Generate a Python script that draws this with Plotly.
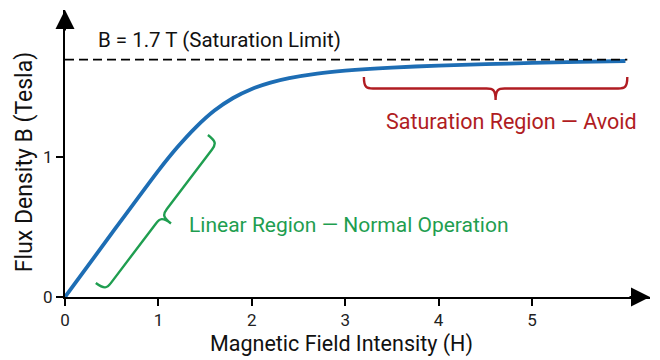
import math
import plotly.graph_objects as go

# ---- data ----
H = [0.0, 0.5, 1.0, 1.2, 1.4, 1.6, 1.8, 2.0, 2.2, 2.4, 2.7, 3.0, 3.5, 4.0, 4.5, 5.0, 5.5, 6.0]
B = [0.0, 0.455, 0.905, 1.07, 1.215, 1.335, 1.425, 1.49, 1.535, 1.567, 1.600, 1.621, 1.643, 1.657, 1.667, 1.676, 1.684, 1.69]
B_SAT = 1.7
x_ticks = [0, 1, 2, 3, 4, 5]
y_ticks = [0, 1]
linear_region = ((0.33, 0.10), (1.53, 1.16))   # brace ends along the linear part
sat_region = (3.2, 6.02)                        # H-range of saturation brace
sat_brace_y = 1.575

# ---- layout constants ----
W, HT = 660, 360
ML, MR, MT, MB = 65, 10, 10, 63
XMAX, YMAX = 6.263, 2.055
sx = (W - ML - MR) / XMAX
sy = (HT - MT - MB) / YMAX

FONT = "Roboto, Liberation Sans, sans-serif"
BLUE = "#1d6db4"
GREEN = "#1f9e50"
RED = "#b01c22"


def brace(p0, p1, depth, r=9.0):
    """Curly brace path (data coords) from p0 to p1; cusp on the right-hand normal side, depth in px."""
    x0, y0 = p0[0] * sx, -p0[1] * sy
    x1, y1 = p1[0] * sx, -p1[1] * sy
    L = math.hypot(x1 - x0, y1 - y0)
    ux, uy = (x1 - x0) / L, (y1 - y0) / L
    nx, ny = -uy, ux
    h = depth / 2.0

    def P(t, s):
        px = x0 + ux * t + nx * s
        py = y0 + uy * t + ny * s
        return f"{px / sx:.5f},{-py / sy:.5f}"

    m = L / 2
    return (f"M {P(0,0)} C {P(0,h*0.9)} {P(r*0.3,h)} {P(r,h)} L {P(m-r,h)} "
            f"C {P(m-r*0.3,h)} {P(m,h*1.1)} {P(m,2*h)} "
            f"C {P(m,h*1.1)} {P(m+r*0.3,h)} {P(m+r,h)} L {P(L-r,h)} "
            f"C {P(L-r*0.3,h)} {P(L,h*0.9)} {P(L,0)}")


fig = go.Figure()

fig.add_trace(go.Scatter(x=H, y=B, mode="lines",
                         line=dict(color=BLUE, width=3.8, shape="spline", smoothing=0.6),
                         hoverinfo="skip", showlegend=False))

# saturation dashed line
fig.add_shape(type="line", x0=0, x1=sat_region[1], y0=B_SAT, y1=B_SAT,
              line=dict(color="black", width=1.8, dash="9px,5px"))

# braces
fig.add_shape(type="path", path=brace(linear_region[0], linear_region[1], 24),
              line=dict(color=GREEN, width=2.4))
fig.add_shape(type="path", path=brace((sat_region[0], sat_brace_y), (sat_region[1], sat_brace_y), 23),
              line=dict(color=RED, width=2.4))

ann = [
    dict(x=0.33, y=1.84, xref="x", yref="y", text="B = 1.7 T (Saturation Limit)", showarrow=False,
         xanchor="left", yanchor="middle", font=dict(family=FONT, size=20.5, color="#111")),
    dict(x=4.78, y=1.26, xref="x", yref="y", text="Saturation Region — Avoid",
         showarrow=False, xanchor="center", yanchor="middle", font=dict(family=FONT, size=21.5, color=RED)),
    dict(x=1.306, y=0.515, xref="x", yref="y", text="Linear Region — Normal Operation",
         showarrow=False, xanchor="left", yanchor="middle", font=dict(family=FONT, size=21, color=GREEN)),
    # axis titles
    dict(x=0.472, y=-0.163, xref="paper", yref="paper", text="Magnetic Field Intensity (H)", showarrow=False,
         xanchor="center", yanchor="middle", font=dict(family=FONT, size=21.5, color="#111")),
    dict(x=-0.070, y=0.47, xref="paper", yref="paper", text="Flux Density B (Tesla)", showarrow=False,
         textangle=-90, xanchor="center", yanchor="middle", font=dict(family=FONT, size=23, color="#111")),
    # axis arrowheads
    dict(x=XMAX, y=0, xref="x", yref="y", ax=-22, ay=0, text="",
         showarrow=True, arrowhead=2, arrowsize=1.9, arrowwidth=2, arrowcolor="black"),
    dict(x=0, y=YMAX, xref="x", yref="y", ax=0, ay=22, text="",
         showarrow=True, arrowhead=2, arrowsize=1.9, arrowwidth=2, arrowcolor="black"),
]

fig.update_layout(
    width=W, height=HT,
    margin=dict(l=ML, r=MR, t=MT, b=MB),
    paper_bgcolor="white", plot_bgcolor="white",
    annotations=ann,
    xaxis=dict(range=[0, XMAX], tickvals=x_ticks, showgrid=False, zeroline=False, automargin=False,
               showline=True, linecolor="black", linewidth=2, ticks="outside", ticklen=7,
               tickwidth=1.6, tickcolor="black", tickfont=dict(family=FONT, size=17, color="#222")),
    yaxis=dict(range=[0, YMAX], tickvals=y_ticks, showgrid=False, zeroline=False, automargin=False,
               showline=True, linecolor="black", linewidth=2, ticks="outside", ticklen=7,
               tickwidth=1.6, tickcolor="black", tickfont=dict(family=FONT, size=17, color="#222")),
)

fig.write_html("out.html", config={"displayModeBar": False},
               post_script="document.body.style.margin='0';document.body.style.padding='0';")
